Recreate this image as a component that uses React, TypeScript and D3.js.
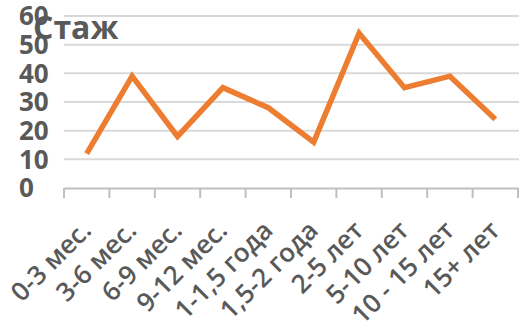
import React, { useEffect, useRef } from 'react';
import * as d3 from 'd3';

const categories = [
  '0-3 мес.',
  '3-6 мес.',
  '6-9 мес.',
  '9-12 мес.',
  '1-1,5 года',
  '1,5-2 года',
  '2-5 лет',
  '5-10 лет',
  '10 - 15 лет',
  '15+ лет',
];
const values = [12, 39, 18, 35, 28, 16, 54, 35, 39, 24];
const yTicks = [0, 10, 20, 30, 40, 50, 60];
const title = 'Стаж';

const width = 519;
const height = 324;

const App: React.FC = () => {
  const svgRef = useRef<SVGSVGElement>(null);

  useEffect(() => {
    if (!svgRef.current) return;
    const svg = d3.select(svgRef.current);
    svg.selectAll('*').remove();

    const font = '"Open Sans", sans-serif';
    const textColor = '#595959';

    const x = d3.scaleBand<string>().domain(categories).range([64, 518]);
    const y = d3.scaleLinear().domain([0, 60]).range([188, 16]);

    // gridlines
    svg
      .append('g')
      .selectAll('line')
      .data(yTicks.filter((t) => t > 0))
      .enter()
      .append('line')
      .attr('x1', 64)
      .attr('x2', width)
      .attr('y1', (d) => y(d))
      .attr('y2', (d) => y(d))
      .attr('stroke', '#d9d9d9')
      .attr('stroke-width', 2);

    // x axis
    const xAxis = svg
      .append('g')
      .attr('transform', `translate(0,${y(0)})`)
      .call(d3.axisBottom(x).tickValues([]).tickSizeOuter(0));
    xAxis.select('.domain').attr('stroke', '#bfbfbf').attr('stroke-width', 2);

    // tick marks on band edges
    const edges = categories.map((c) => x(c) as number).concat([518]);
    svg
      .append('g')
      .selectAll('line')
      .data(edges)
      .enter()
      .append('line')
      .attr('x1', (d) => d)
      .attr('x2', (d) => d)
      .attr('y1', y(0))
      .attr('y2', y(0) + 10)
      .attr('stroke', '#bfbfbf')
      .attr('stroke-width', 2);

    // x labels
    svg
      .append('g')
      .selectAll('text')
      .data(categories)
      .enter()
      .append('text')
      .attr(
        'transform',
        (d) => `translate(${(x(d) as number) + x.bandwidth() / 2 + 6},${y(0) + 44}) rotate(-45)`
      )
      .attr('text-anchor', 'end')
      .style('font-family', font)
      .style('font-weight', 600)
      .style('font-size', '26px')
      .style('fill', textColor)
      .text((d) => d);

    // y labels
    svg
      .append('g')
      .selectAll('text')
      .data(yTicks)
      .enter()
      .append('text')
      .attr('x', 19)
      .attr('y', (d) => y(d))
      .attr('dy', '0.36em')
      .style('font-family', font)
      .style('font-weight', 700)
      .style('font-size', '26px')
      .style('fill', textColor)
      .text((d) => d);

    // line
    const line = d3
      .line<number>()
      .x((_, i) => (x(categories[i]) as number) + x.bandwidth() / 2)
      .y((d) => y(d));

    svg
      .append('path')
      .datum(values)
      .attr('d', line)
      .attr('fill', 'none')
      .attr('stroke', '#ED7D31')
      .attr('stroke-width', 5.5)
      .attr('stroke-linejoin', 'miter');

    // title
    svg
      .append('text')
      .attr('x', 33)
      .attr('y', 39)
      .style('font-family', font)
      .style('font-weight', 700)
      .style('font-size', '32px')
      .style('fill', textColor)
      .text(title);
  }, []);

  return (
    <svg
      ref={svgRef}
      width={width}
      height={height}
      style={{ position: 'absolute', left: 0, top: 0, background: '#fff' }}
    />
  );
};

export default App;
